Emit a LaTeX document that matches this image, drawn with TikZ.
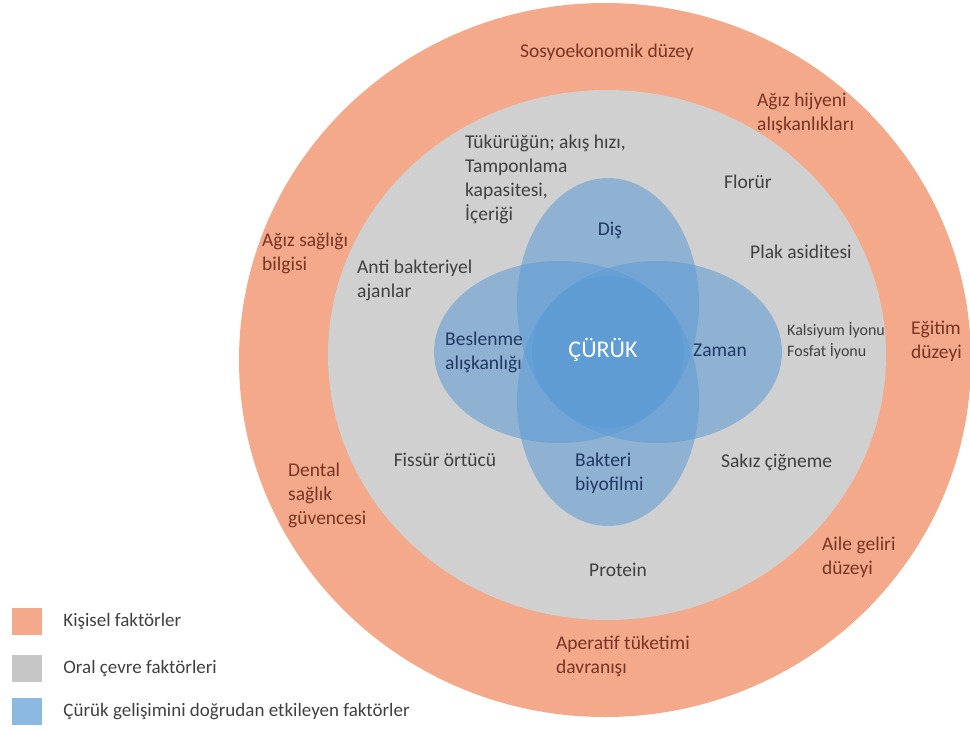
\documentclass[tikz,border=0pt]{standalone}
\usepackage{fontspec}
\setmainfont{Carlito}
\usetikzlibrary{positioning}
\definecolor{kisisel}{RGB}{244,170,138}
\definecolor{oral}{RGB}{208,208,209}
\definecolor{dogrudan}{RGB}{91,155,213}
\definecolor{kahve}{RGB}{120,52,36}
\definecolor{koyugri}{RGB}{64,64,64}
\definecolor{lacivert}{RGB}{33,56,98}
\begin{document}
\begin{tikzpicture}[x=1pt,y=-1pt,
    every node/.style={inner sep=0pt,align=left,font=\fontsize{19.5}{24}\selectfont},
    outer label/.style={text=kahve},
    oral label/.style={text=koyugri},
    petal label/.style={text=lacivert},
    petal/.style={fill=dogrudan,fill opacity=0.55},
    legend box/.style={minimum width=30pt,minimum height=27pt},
    legend text/.style={text=koyugri,font=\fontsize{19}{23}\selectfont}]

    \useasboundingbox (0,0) rectangle (970,731);

    % Define circles
    \fill[kisisel] (605,360) ellipse [x radius=366, y radius=357];
    \fill[oral] (607,355) ellipse [x radius=279, y radius=265];
    \fill[petal] (608,303) ellipse [x radius=91, y radius=125];
    \fill[petal] (608,401) ellipse [x radius=91, y radius=125];
    \fill[petal] (559,352) ellipse [x radius=125, y radius=91];
    \fill[petal] (657,352) ellipse [x radius=125, y radius=91];

    % Kisisel faktorler
    \node[outer label] (sosyo) at (607,52) {Sosyoekonomik düzey};
    \node[outer label,anchor=west] (hijyen) at (757,113) {Ağız hijyeni\\alışkanlıkları};
    \node[outer label,anchor=west] (bilgi) at (262,253) {Ağız sağlığı\\bilgisi};
    \node[outer label,anchor=west] (egitim) at (911,341) {Eğitim\\düzeyi};
    \node[outer label,anchor=west] (guvence) at (288,495) {Dental\\sağlık\\güvencesi};
    \node[outer label,anchor=west] (gelir) at (822,557) {Aile geliri\\düzeyi};
    \node[outer label,anchor=west] (aperatif) at (556,656) {Aperatif tüketimi\\davranışı};

    % Oral cevre faktorleri
    \node[oral label,anchor=west] (tukuruk) at (465,179) {Tükürüğün; akış hızı,\\Tamponlama\\kapasitesi,\\İçeriği};
    \node[oral label] (florur) at (748,182) {Florür};
    \node[oral label,anchor=west] (plak) at (750,252) {Plak asiditesi};
    \node[oral label,anchor=west] (anti) at (357,280) {Anti bakteriyel\\ajanlar};
    \node[oral label,anchor=west,font=\fontsize{16}{21}\selectfont] (iyon) at (787,341) {Kalsiyum İyonu\\Fosfat İyonu};
    \node[oral label] (fissur) at (445,460) {Fissür örtücü};
    \node[oral label,anchor=west] (sakiz) at (721,462) {Sakız çiğneme};
    \node[oral label] (protein) at (618,570) {Protein};

    % Dogrudan etkileyen faktorler
    \node[petal label] (dis) at (610,230) {Diş};
    \node[petal label,anchor=west] (beslenme) at (445,352) {Beslenme\\alışkanlığı};
    \node[petal label] (zaman) at (720,350) {Zaman};
    \node[petal label,anchor=west] (bakteri) at (575,473) {Bakteri\\biyofilmi};
    \node[text=white,font=\fontsize{24}{28}\selectfont] (curuk) at (603,350) {ÇÜRÜK};

    % Legend
    \node[legend box,fill=kisisel] (k1) at (27,621) {};
    \node[legend box,fill=oral!95!black] (k2) [below=20pt of k1] {};
    \node[legend box,fill=dogrudan!70] (k3) [below=16pt of k2] {};
    \node[legend text] [right=21pt of k1] {Kişisel faktörler};
    \node[legend text] [right=21pt of k2] {Oral çevre faktörleri};
    \node[legend text] [right=21pt of k3] {Çürük gelişimini doğrudan etkileyen faktörler};

\end{tikzpicture}
\end{document}
